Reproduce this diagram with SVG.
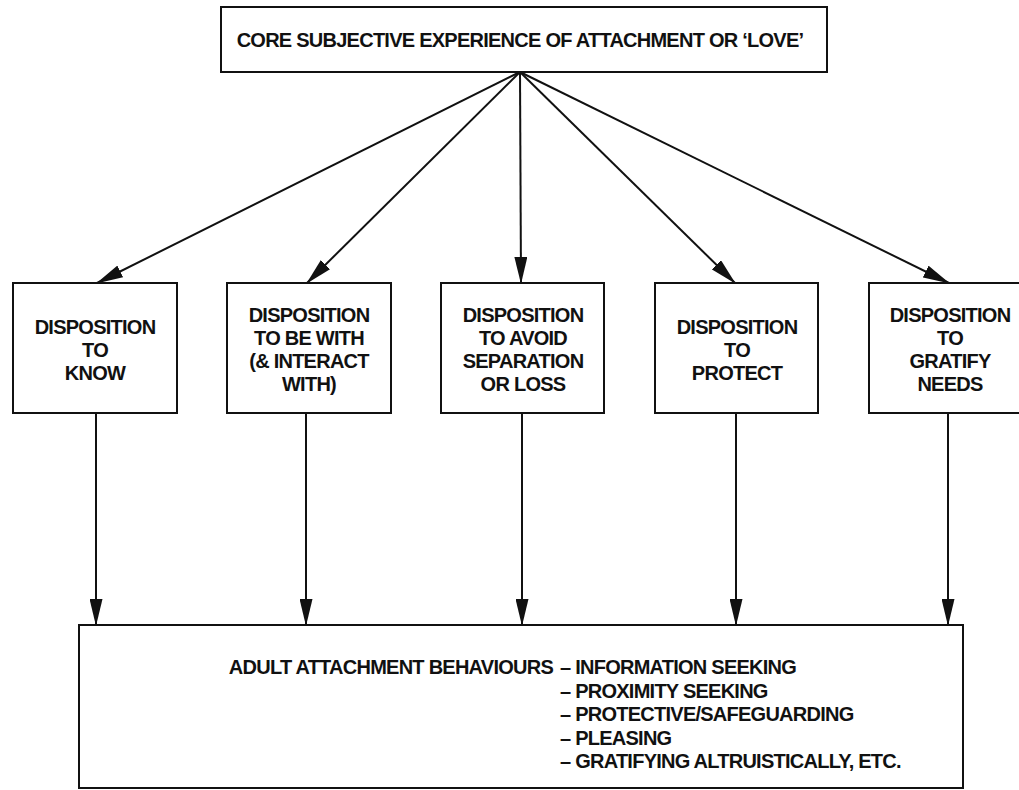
<svg xmlns="http://www.w3.org/2000/svg" width="1019" height="790" viewBox="0 0 1019 790">
<style>
.box{fill:#fff;stroke:#111;stroke-width:2}
.t{font-family:"Liberation Sans",Arial,sans-serif;font-weight:bold;font-size:20px;letter-spacing:-0.75px;fill:#111}
.c{text-anchor:middle}
.ln{stroke:#111;stroke-width:2;fill:none}
</style>
<defs>
<marker id="ah" viewBox="0 0 27 13" refX="26" refY="6.5" markerWidth="27" markerHeight="13" orient="auto" markerUnits="userSpaceOnUse">
<path d="M0,0 L27,6.5 L0,13 Z" fill="#111"/>
</marker>
</defs>
<rect width="1019" height="790" fill="#fff"/>
<g id="connectors">
<line class="ln" x1="520" y1="72" x2="97" y2="283" marker-end="url(#ah)"/>
<line class="ln" x1="520" y1="72" x2="307" y2="283" marker-end="url(#ah)"/>
<line class="ln" x1="520" y1="72" x2="521" y2="283" marker-end="url(#ah)"/>
<line class="ln" x1="520" y1="72" x2="735" y2="283" marker-end="url(#ah)"/>
<line class="ln" x1="520" y1="72" x2="949" y2="283" marker-end="url(#ah)"/>
<line class="ln" x1="96" y1="413" x2="96" y2="625" marker-end="url(#ah)"/>
<line class="ln" x1="306" y1="413" x2="306" y2="625" marker-end="url(#ah)"/>
<line class="ln" x1="522" y1="413" x2="522" y2="625" marker-end="url(#ah)"/>
<line class="ln" x1="736" y1="413" x2="736" y2="625" marker-end="url(#ah)"/>
<line class="ln" x1="948" y1="413" x2="948" y2="625" marker-end="url(#ah)"/>
</g>
<g id="core">
<rect class="box" x="221" y="7" width="606" height="65"/>
<text class="t c" x="520" y="47">CORE SUBJECTIVE EXPERIENCE OF ATTACHMENT OR ‘LOVE’</text>
</g>
<g id="know">
<rect class="box" x="13" y="283" width="164" height="130"/>
<text class="t c" x="95" y="334">DISPOSITION</text>
<text class="t c" x="95" y="357">TO</text>
<text class="t c" x="95" y="380">KNOW</text>
</g>
<g id="bewith">
<rect class="box" x="227" y="283" width="164" height="130"/>
<text class="t c" x="309" y="322">DISPOSITION</text>
<text class="t c" x="309" y="345">TO BE WITH</text>
<text class="t c" x="309" y="368">(&amp; INTERACT</text>
<text class="t c" x="309" y="391">WITH)</text>
</g>
<g id="avoid">
<rect class="box" x="441" y="283" width="163" height="130"/>
<text class="t c" x="523" y="322">DISPOSITION</text>
<text class="t c" x="523" y="345">TO AVOID</text>
<text class="t c" x="523" y="368">SEPARATION</text>
<text class="t c" x="523" y="391">OR LOSS</text>
</g>
<g id="protect">
<rect class="box" x="655" y="283" width="163" height="130"/>
<text class="t c" x="737" y="334">DISPOSITION</text>
<text class="t c" x="737" y="357">TO</text>
<text class="t c" x="737" y="380">PROTECT</text>
</g>
<g id="gratify">
<rect class="box" x="869" y="283" width="164" height="130"/>
<text class="t c" x="950" y="322">DISPOSITION</text>
<text class="t c" x="950" y="345">TO</text>
<text class="t c" x="950" y="368">GRATIFY</text>
<text class="t c" x="950" y="391">NEEDS</text>
</g>
<g id="behaviours">
<rect class="box" x="79" y="625" width="884" height="163"/>
<text class="t" x="553" y="674" text-anchor="end">ADULT ATTACHMENT BEHAVIOURS</text>
<text class="t" x="560" y="674">– INFORMATION SEEKING</text>
<text class="t" x="560" y="697.5">– PROXIMITY SEEKING</text>
<text class="t" x="560" y="721">– PROTECTIVE/SAFEGUARDING</text>
<text class="t" x="560" y="744.5">– PLEASING</text>
<text class="t" x="560" y="768">– GRATIFYING ALTRUISTICALLY, ETC.</text>
</g>
</svg>
